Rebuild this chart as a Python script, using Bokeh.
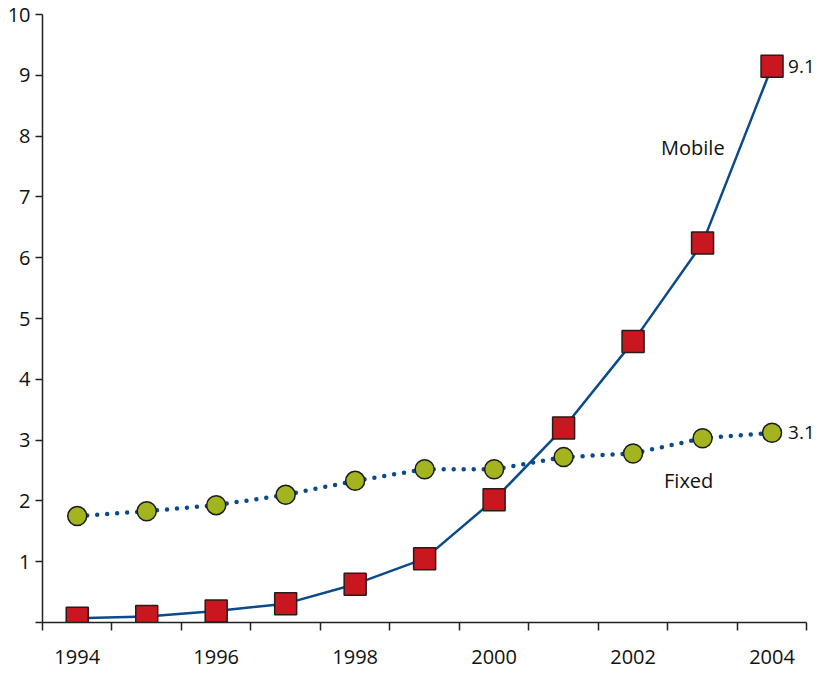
from bokeh.plotting import figure
from bokeh.models import Range1d, FixedTicker, Label
from bokeh.embed import file_html
from bokeh.resources import INLINE

years = [1994, 1995, 1996, 1997, 1998, 1999, 2000, 2001, 2002, 2003, 2004]
mobile = [0.07, 0.10, 0.19, 0.31, 0.63, 1.05, 2.02, 3.20, 4.62, 6.24, 9.15]
fixed = [1.75, 1.83, 1.93, 2.10, 2.33, 2.52, 2.52, 2.72, 2.78, 3.03, 3.12]
label_years = [1994, 1996, 1998, 2000, 2002, 2004]
y_ticks = [0, 1, 2, 3, 4, 5, 6, 7, 8, 9, 10]
mobile_end_label = "9.1"
fixed_end_label = "3.1"

FONT = "Open Sans"
FS = "20px"
BLUE = "#0b4a8b"

p = figure(width=818, height=668, x_range=Range1d(1993.5, 2004.64), y_range=Range1d(0, 10),
           output_backend="svg", toolbar_location=None,
           min_border_left=42, min_border_right=2, min_border_top=14, min_border_bottom=46)
p.grid.visible = False
p.outline_line_color = None
p.background_fill_color = "white"

p.line(years, fixed, line_color=BLUE, line_width=4.5, line_dash="0 10", line_cap="round")
p.line(years, mobile, line_color=BLUE, line_width=2.5)
p.scatter(years, fixed, marker="circle", size=19, fill_color="#a3b41f", line_color="#1a1a1a", line_width=1.5)
p.scatter(years, mobile, marker="square", size=22, fill_color="#c8171e", line_color="#2a1a1a", line_width=1.5)

for x, y, t in [(years[-1], mobile[-1], mobile_end_label), (years[-1], fixed[-1], fixed_end_label)]:
    p.add_layout(Label(x=x, y=y, text=t, x_offset=16, text_baseline="middle", text_align="left",
                       text_font=FONT, text_font_size="19px", text_color="#111"))
p.add_layout(Label(x=2002.86, y=7.82, text="Mobile", text_align="center", text_baseline="middle",
                   text_font=FONT, text_font_size=FS, text_color="#111"))
p.add_layout(Label(x=2002.8, y=2.33, text="Fixed", text_align="center", text_baseline="middle",
                   text_font=FONT, text_font_size=FS, text_color="#111"))

xa = p.xaxis[0]
xa.bounds = (1993.5, 2004.5)
xa.ticker = FixedTicker(ticks=label_years, minor_ticks=[1993.5 + k for k in range(12)])
xa.major_tick_out = 0
xa.major_tick_in = 0
xa.minor_tick_out = 8
xa.minor_tick_in = 0
xa.minor_tick_line_color = "#222"
xa.minor_tick_line_width = 1.5
xa.major_label_standoff = 19
xa.axis_line_color = "#222"
xa.axis_line_width = 1.5
xa.major_label_text_font = FONT
xa.major_label_text_font_size = FS
xa.major_label_text_color = "#111"

ya = p.yaxis[0]
ya.ticker = FixedTicker(ticks=y_ticks)
ya.major_label_overrides = {0: ""}
ya.major_tick_out = 7
ya.major_tick_in = 0
ya.major_tick_line_color = "#222"
ya.major_tick_line_width = 1.5
ya.minor_tick_out = 0
ya.minor_tick_in = 0
ya.major_label_standoff = 5
ya.axis_line_color = "#222"
ya.axis_line_width = 1.5
ya.major_label_text_font = FONT
ya.major_label_text_font_size = FS
ya.major_label_text_color = "#111"

open("out.html", "w").write(file_html(p, INLINE))
